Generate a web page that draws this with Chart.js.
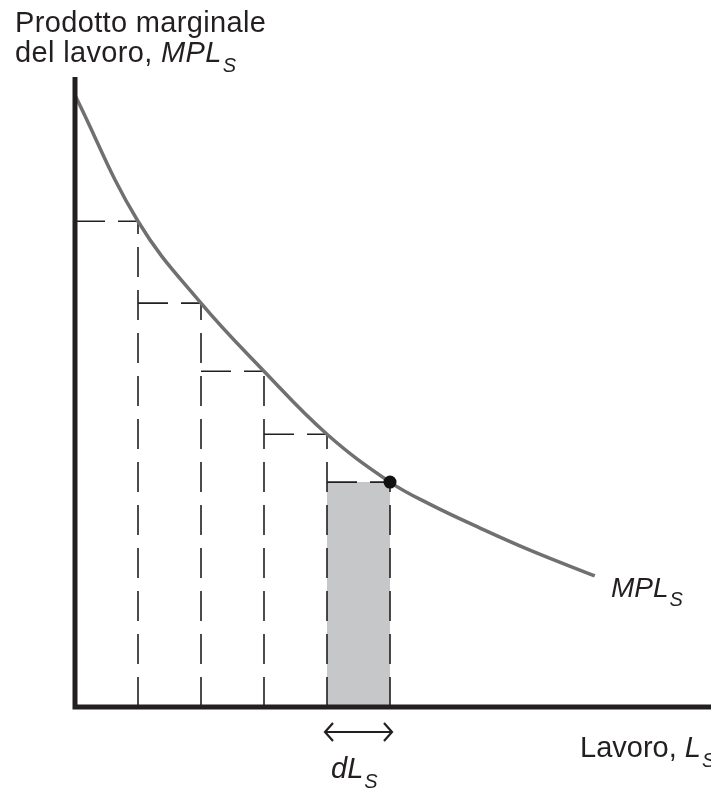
<!DOCTYPE html>
<html>
<head>
<meta charset="utf-8">
<script src="https://cdn.jsdelivr.net/npm/chart.js@4.4.1/dist/chart.umd.min.js"></script>
<style>
html,body{margin:0;padding:0;background:#fff;}
#wrap{width:711px;height:790px;position:relative;}
</style>
</head>
<body>
<div id="wrap"><canvas id="c" width="711" height="790"></canvas></div>
<script>
// Curve MPL_S (labour on x, marginal product on y)
const curveX = [0, 1, 2, 3, 4, 5, 5.63, 6.43, 7.22, 8.25];
const curveY = [9.71, 7.71, 6.41, 5.33, 4.33, 3.57, 3.22, 2.84, 2.49, 2.08];
// Step rectangles: right edge and height
const stepX = [1, 2, 3, 4, 5];
const stepH = [7.71, 6.41, 5.33, 4.33, 3.57];
const shadedIndex = 4;
// Labels
const yTitleLine1 = "Prodotto marginale";
const yTitleLine2 = "del lavoro, ";
const curveLabel = ["MPL", "S"];
const xTitle = ["Lavoro, ", "L", "S"];
const dLabel = ["dL", "S"];

const FONT = '"Liberation Sans", Arial, Helvetica, sans-serif';
const INK = '#231f20';

const datasets = [];
// shaded rectangle
const sx = stepX[shadedIndex], sh = stepH[shadedIndex];
datasets.push({
  data: [{x: sx - 1, y: 0}, {x: sx - 1, y: sh}, {x: sx, y: sh}, {x: sx, y: 0}],
  showLine: true, borderWidth: 0, borderColor: 'rgba(0,0,0,0)',
  backgroundColor: '#c6c7c9', fill: 'origin', pointRadius: 0, order: 5, tension: 0
});
// dashed steps
stepX.forEach((x, i) => {
  const h = stepH[i];
  datasets.push({
    data: [{x: x - 1, y: h}, {x: x, y: h}],
    showLine: true, borderColor: INK, borderWidth: 1.6, borderDash: [30, 13],
    pointRadius: 0, fill: false, order: 3, tension: 0
  });
  datasets.push({
    data: [{x: x, y: 0}, {x: x, y: h}],
    showLine: true, borderColor: INK, borderWidth: 1.6, borderDash: [30, 13],
    pointRadius: 0, fill: false, order: 3, tension: 0
  });
});
// curve
datasets.push({
  data: curveX.map((x, i) => ({x, y: curveY[i]})),
  showLine: true, borderColor: '#707070', borderWidth: 3.5,
  tension: 0.4, pointRadius: 0, fill: false, order: 1
});
// point
datasets.push({
  data: [{x: sx, y: sh}],
  showLine: false, pointRadius: 6.5, pointBackgroundColor: '#111', pointBorderWidth: 0,
  order: 0
});

function drawSub(ctx, x, y, parts, size, italicFlags, spacing) {
  let cx = x;
  parts.forEach((p, i) => {
    const isSub = i === parts.length - 1;
    const fs = isSub ? Math.round(size * 0.7) : size;
    ctx.font = (italicFlags[i] ? 'italic ' : '') + fs + 'px ' + FONT;
    ctx.letterSpacing = (spacing || 0) + 'px';
    ctx.fillText(p, cx, isSub ? y + size * 0.33 : y);
    cx += ctx.measureText(p).width + (italicFlags[i] ? 1 : 0);
  });
  ctx.letterSpacing = '0px';
}

const decor = {
  id: 'decor',
  afterDatasetsDraw(chart) {
    const ctx = chart.ctx;
    const xs = chart.scales.x, ys = chart.scales.y;
    const ca = chart.chartArea;
    const x0 = xs.getPixelForValue(0), y0 = ys.getPixelForValue(0);
    ctx.save();
    // axes
    ctx.strokeStyle = INK;
    ctx.lineWidth = 5;
    ctx.lineCap = 'butt';
    ctx.beginPath();
    ctx.moveTo(x0, ca.top);
    ctx.lineTo(x0, y0 + 2.5);
    ctx.moveTo(x0 - 2.5, y0);
    ctx.lineTo(ca.right, y0);
    ctx.stroke();
    // double arrow under shaded bar
    const ax1 = xs.getPixelForValue(sx - 1) - 2, ax2 = xs.getPixelForValue(sx) + 2, ay = y0 + 25;
    ctx.lineWidth = 2.2;
    ctx.lineJoin = 'miter';
    ctx.beginPath();
    ctx.moveTo(ax1, ay); ctx.lineTo(ax2, ay);
    ctx.moveTo(ax1 + 8, ay - 9); ctx.lineTo(ax1, ay); ctx.lineTo(ax1 + 8, ay + 9);
    ctx.moveTo(ax2 - 8, ay - 9); ctx.lineTo(ax2, ay); ctx.lineTo(ax2 - 8, ay + 9);
    ctx.stroke();
    // texts
    ctx.fillStyle = INK;
    ctx.textBaseline = 'alphabetic';
    ctx.textAlign = 'left';
    ctx.font = '29px ' + FONT;
    ctx.letterSpacing = '0.35px';
    ctx.fillText(yTitleLine1, 15, 32);
    drawSub(ctx, 15, 62, [yTitleLine2, curveLabel[0], curveLabel[1]], 29, [false, true, true], 0.35);
    drawSub(ctx, 611, 597, [curveLabel[0], curveLabel[1]], 28, [true, true]);
    drawSub(ctx, 580, 757, xTitle, 29, [false, true, true]);
    drawSub(ctx, 331, 778, [dLabel[0], dLabel[1]], 29, [true, true]);
    ctx.restore();
  }
};

new Chart(document.getElementById('c'), {
  type: 'scatter',
  data: {datasets},
  options: {
    responsive: false,
    animation: false,
    events: [],
    layout: {autoPadding: false, padding: {left: 75, top: 77, right: 0, bottom: 83}},
    plugins: {legend: {display: false}, tooltip: {enabled: false}},
    scales: {
      x: {type: 'linear', display: false, min: 0, max: 636 / 63},
      y: {type: 'linear', display: false, min: 0, max: 10}
    }
  },
  plugins: [decor]
});
</script>
</body>
</html>
